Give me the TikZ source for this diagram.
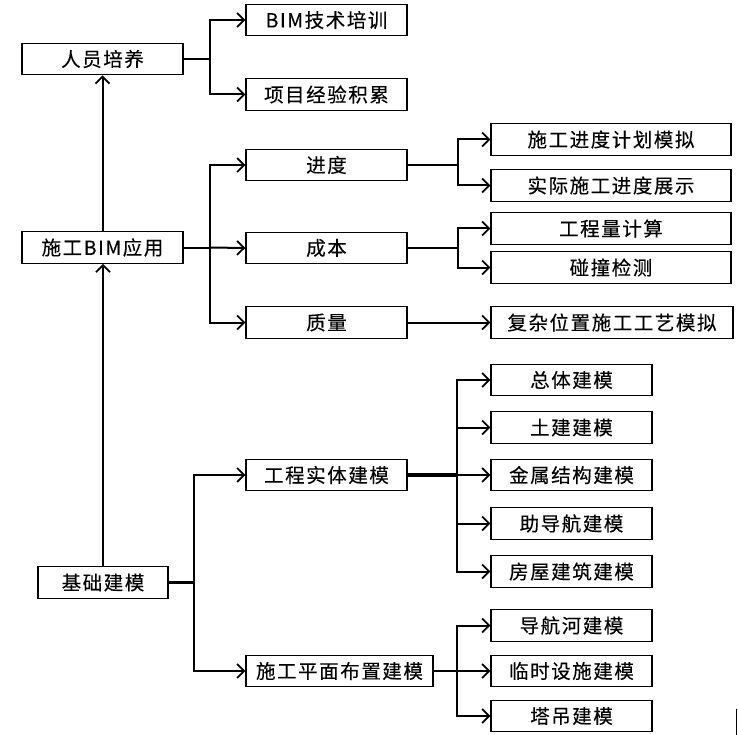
\documentclass[tikz,border=0pt]{standalone}
\usepackage{fontspec}
\newfontfamily\cjk{Noto Sans CJK SC}[LetterSpace=8,FakeBold=0.2]
\usetikzlibrary{arrows.meta}
\begin{document}
\begin{tikzpicture}[x=1pt,y=-1pt,
  box/.style={draw, line width=1.4pt, minimum height=31.5pt, inner sep=0pt,
    font=\cjk\fontsize{19.5}{22}\selectfont},
  stem/.style={line width=2.4pt},
  arr/.style={line width=2pt, -{Straight Barb[length=7pt,width=14pt,line width=1.8pt]}},
  lnk/.style={line width=2pt}]
\useasboundingbox (0,0) rectangle (738,735);
% top group
\node[box, minimum width=161pt] (p1) at (102.5,59) {人员培养};
\node[box, minimum width=161pt] (p11) at (326.5,20) {BIM技术培训};
\node[box, minimum width=161pt] (p12) at (326.5,94.5) {项目经验积累};
% BIM application
\node[box, minimum width=161pt] (a) at (102.5,247.5) {施工BIM应用};
\node[box, minimum width=161pt] (a1) at (326.5,165) {进度};
\node[box, minimum width=161pt] (a2) at (326.5,248) {成本};
\node[box, minimum width=161pt] (a3) at (326.5,322.5) {质量};
\node[box, minimum width=240pt] (a11) at (611,139.5) {施工进度计划模拟};
\node[box, minimum width=240pt] (a12) at (611,185.5) {实际施工进度展示};
\node[box, minimum width=240pt] (a21) at (611,228.5) {工程量计算};
\node[box, minimum width=240pt] (a22) at (611,267.5) {碰撞检测};
\node[box, minimum width=242pt] (a31) at (612,322.5) {复杂位置施工工艺模拟};
% modelling
\node[box, minimum width=130pt] (b) at (103,582.5) {基础建模};
\node[box, minimum width=161pt] (b1) at (326.5,475) {工程实体建模};
\node[box, minimum width=187pt] (b2) at (339.5,671) {施工平面布置建模};
\node[box, minimum width=161pt] (b11) at (571.5,380) {总体建模};
\node[box, minimum width=161pt] (b12) at (571.5,427.5) {土建建模};
\node[box, minimum width=161pt] (b13) at (571.5,475) {金属结构建模};
\node[box, minimum width=161pt] (b14) at (571.5,523.5) {助导航建模};
\node[box, minimum width=161pt] (b15) at (571.5,571.5) {房屋建筑建模};
\node[box, minimum width=161pt] (b21) at (571.5,625.5) {导航河建模};
\node[box, minimum width=161pt] (b22) at (571.5,671) {临时设施建模};
\node[box, minimum width=161pt] (b23) at (571.5,716) {塔吊建模};
% junctions
\coordinate (jp) at (210,59);
\coordinate (ja) at (210,247.5);
\coordinate (ja1) at (458,165);
\coordinate (ja2) at (458,248);
\coordinate (jb) at (194,582.5);
\coordinate (jb1) at (457,475);
\coordinate (jb2) at (457,671);
% vertical trunk
\draw[arr] (b.north) -- (b.north |- a.south);
\draw[arr] (a.north) -- (a.north |- p1.south);
% branches
\draw[stem] (p1.east) -- (jp);
\draw[arr] (jp) |- (p11.west);
\draw[arr] (jp) |- (p12.west);
\draw[lnk] (a.east) -- (ja);
\draw[arr] (ja) |- (a1.west);
\draw[arr] (ja) -- (a2.west);
\draw[arr] (ja) |- (a3.west);
\draw[stem] (a1.east) -- (ja1);
\draw[arr] (ja1) |- (a11.west);
\draw[arr] (ja1) |- (a12.west);
\draw[stem] (a2.east) -- (ja2);
\draw[arr] (ja2) |- (a21.west);
\draw[arr] (ja2) |- (a22.west);
\draw[arr] (a3.east) -- (a31.west);
\draw[stem] (b.east) -- (jb);
\draw[arr] (jb) |- (b1.west);
\draw[arr] (jb) |- (b2.west);
\draw[line width=3.2pt] (b1.east) -- (jb1);
\draw[arr] (jb1) |- (b11.west);
\draw[arr] (jb1) |- (b12.west);
\draw[arr] (jb1) -- (b13.west);
\draw[arr] (jb1) |- (b14.west);
\draw[arr] (jb1) |- (b15.west);
\draw[stem] (b2.east) -- (jb2);
\draw[arr] (jb2) |- (b21.west);
\draw[arr] (jb2) -- (b22.west);
\draw[arr] (jb2) |- (b23.west);
% stray mark at the bottom right
\draw[line width=1.4pt] (736.5,709) -- (736.5,735);
\end{tikzpicture}
\end{document}
